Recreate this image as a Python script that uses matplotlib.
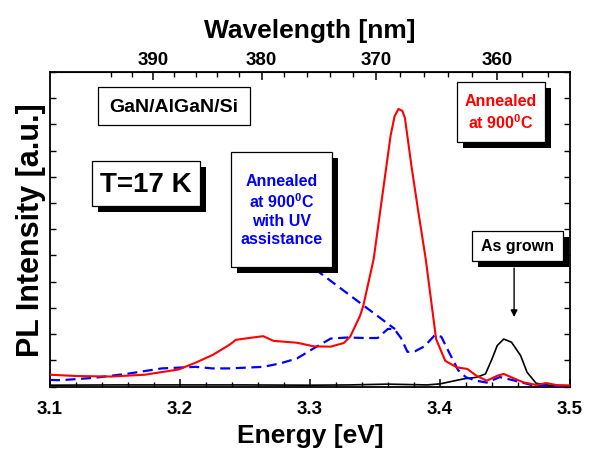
import numpy as np
import matplotlib
matplotlib.use("Agg")
import matplotlib.pyplot as plt
from matplotlib.patches import Rectangle
from matplotlib.ticker import FixedLocator, MultipleLocator, NullFormatter

plt.rcParams['font.family'] = ['Liberation Sans', 'DejaVu Sans']
plt.rcParams['font.weight'] = 'bold'
plt.rcParams['mathtext.fontset'] = 'custom'
plt.rcParams['mathtext.rm'] = 'Liberation Sans:bold'
plt.rcParams['mathtext.it'] = 'Liberation Sans:bold'
plt.rcParams['mathtext.bf'] = 'Liberation Sans:bold'

# ---- data (Energy in eV, PL intensity in arbitrary units) ----
red_E = [3.100, 3.120, 3.147, 3.173, 3.199, 3.212, 3.225, 3.238, 3.243, 3.253,
         3.264, 3.272, 3.290, 3.303, 3.316, 3.326, 3.331, 3.3385, 3.341, 3.349,
         3.356, 3.362, 3.365, 3.368, 3.371, 3.373, 3.378, 3.383, 3.389, 3.394,
         3.397, 3.404, 3.413, 3.421, 3.428, 3.436, 3.444, 3.449, 3.455, 3.464,
         3.474, 3.482, 3.490, 3.500]
red_I = [0.45, 0.40, 0.38, 0.45, 0.65, 0.91, 1.20, 1.59, 1.78, 1.85,
         1.92, 1.74, 1.67, 1.53, 1.52, 1.66, 1.91, 2.70, 3.08, 4.87,
         7.41, 9.57, 10.30, 10.59, 10.52, 10.25, 8.43, 6.77, 4.87, 2.96,
         1.81, 0.98, 0.73, 0.67, 0.41, 0.22, 0.41, 0.48, 0.35, 0.16,
         0.06, 0.13, 0.05, 0.04]

blue_E = [3.100, 3.108, 3.134, 3.160, 3.186, 3.212, 3.225, 3.238, 3.264, 3.277,
          3.290, 3.303, 3.316, 3.329, 3.342, 3.352, 3.360, 3.365, 3.370, 3.375,
          3.381, 3.388, 3.396, 3.401, 3.407, 3.414, 3.420, 3.428, 3.436, 3.446,
          3.457, 3.471, 3.485, 3.500]
blue_I = [0.25, 0.24, 0.33, 0.49, 0.69, 0.75, 0.69, 0.69, 0.75, 0.88,
          1.07, 1.46, 1.83, 1.87, 1.85, 1.85, 2.20, 2.18, 1.85, 1.32,
          1.35, 1.53, 1.96, 1.90, 1.30, 0.62, 0.35, 0.22, 0.15, 0.36,
          0.23, 0.05, 0.02, 0.02]

black_E = [3.10, 3.15, 3.20, 3.25, 3.30, 3.33, 3.36, 3.39, 3.40, 3.418,
           3.428, 3.435, 3.440, 3.444, 3.449, 3.455, 3.462, 3.467, 3.474, 3.485, 3.50]
black_I = [0.05, 0.06, 0.06, 0.06, 0.05, 0.06, 0.09, 0.06, 0.10, 0.29,
           0.35, 0.48, 1.05, 1.56, 1.81, 1.69, 1.18, 0.54, 0.12, 0.04, 0.03]

# leader line from the UV box to the blue curve, and the "As grown" arrow
uv_leader_E = [3.3038, 3.3654]
uv_leader_I = [4.48, 2.19]
asgrown_arrow_E = 3.457
asgrown_arrow_I = [4.52, 2.65]

energy_ticks = [3.1, 3.2, 3.3, 3.4, 3.5]
wavelength_ticks = [360, 370, 380, 390]
wavelength_minor = list(range(356, 396, 2))

W, H = 590, 452
fig = plt.figure(figsize=(W / 100, H / 100), dpi=100)
L, R, T, B = 50, 570, 73, 387.5
ax = fig.add_axes([L / W, 1 - B / H, (R - L) / W, (B - T) / H])

ax.plot(black_E, black_I, color='black', lw=1.2, zorder=3)
ax.plot(blue_E, blue_I, color='#0000ff', lw=1.6, dashes=(4.5, 2.5), zorder=4)
ax.plot(red_E, red_I, color='#ff0000', lw=1.5, zorder=5)
ax.plot(uv_leader_E, uv_leader_I, color='#0000ff', lw=1.6, dashes=(4.5, 2.5), zorder=4)
ax.annotate('', xy=(asgrown_arrow_E, asgrown_arrow_I[1]),
            xytext=(asgrown_arrow_E, asgrown_arrow_I[0]),
            arrowprops=dict(arrowstyle='-|>', color='black', lw=1.0,
                            mutation_scale=10, shrinkA=0, shrinkB=0), zorder=6)

ax.set_xlim(3.1, 3.5)
ax.set_ylim(0, 12)
ax.set_xticks(energy_ticks)
ax.xaxis.set_minor_locator(MultipleLocator(0.02))
ax.yaxis.set_major_locator(MultipleLocator(1))
ax.set_yticklabels([])
ax.tick_params(axis='x', which='major', direction='in', length=6, width=1.1,
               labelsize=13.5, pad=10, top=False)
ax.tick_params(axis='x', which='minor', direction='in', length=3.5, width=1.0, top=False)
ax.tick_params(axis='y', which='major', direction='in', length=4.5, width=1.0,
               left=True, right=True, labelleft=False)
for lab in ax.get_xticklabels():
    lab.set_fontweight('bold')
for sp in ax.spines.values():
    sp.set_linewidth(1.3)

ax.set_xlabel('Energy [eV]', fontsize=19, fontweight='bold', labelpad=4)
ax.set_ylabel('PL Intensity [a.u.]', fontsize=22, fontweight='bold', labelpad=3)

sec = ax.secondary_xaxis('top', functions=(lambda e: 1239.84 / np.asarray(e, float),
                                           lambda w: 1239.84 / np.asarray(w, float)))
sec.set_xticks(wavelength_ticks)
sec.xaxis.set_minor_locator(FixedLocator(wavelength_minor))
sec.xaxis.set_minor_formatter(NullFormatter())
sec.tick_params(axis='x', which='major', direction='in', length=6, width=1.1,
                labelsize=13.5, pad=3)
sec.tick_params(axis='x', which='minor', direction='in', length=3.5, width=1.0)
for lab in sec.get_xticklabels():
    lab.set_fontweight('bold')
sec.set_xlabel('Wavelength [nm]', fontsize=19, fontweight='bold', labelpad=10)


def box(x0, y0, x1, y1, text, color, size, shadow=6, ls=1.25):
    tf = fig.transFigure
    if shadow:
        fig.add_artist(Rectangle(((x0 + shadow) / W, 1 - (y1 + shadow) / H),
                                 (x1 - x0) / W, (y1 - y0) / H, transform=tf,
                                 facecolor='black', edgecolor='black', lw=0, zorder=10))
    fig.add_artist(Rectangle((x0 / W, 1 - y1 / H), (x1 - x0) / W, (y1 - y0) / H,
                             transform=tf, facecolor='white', edgecolor='black',
                             lw=0.9, zorder=11))
    fig.text((x0 + x1) / 2 / W, 1 - (y0 + y1) / 2 / H, text, color=color,
             fontsize=size, fontweight='bold', ha='center', va='center',
             multialignment='center', linespacing=ls, zorder=12)


box(98, 88, 250, 126, 'GaN/AlGaN/Si', 'black', 14, shadow=0)
box(92, 162, 200, 207, 'T=17 K', 'black', 20)
box(231, 153, 332, 268, 'Annealed\nat 900$^0$C\nwith UV\nassistance', '#0000ff', 11.5)
box(457, 83, 545, 143, 'Annealed\nat 900$^0$C', '#ff0000', 11.5)
box(472, 232, 563, 262, 'As grown', 'black', 11.5)

fig.savefig('out.png', dpi=100)
